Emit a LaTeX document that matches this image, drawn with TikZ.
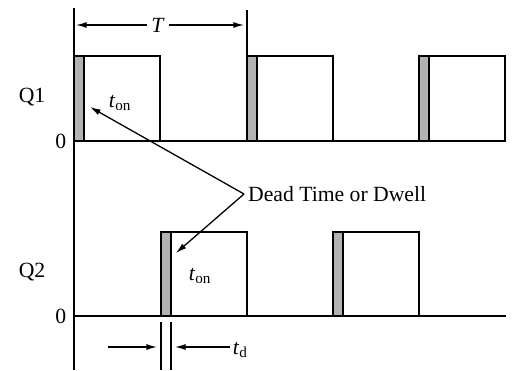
\documentclass[tikz,border=0pt]{standalone}
\usepackage{amsmath}
\usepackage{fontspec}
\setmainfont{Liberation Serif}
\usepackage{tikz}
\usetikzlibrary{arrows.meta}

\begin{document}
\begin{tikzpicture}[x=0.03cm, y=-0.03cm, line width=1.1pt,
    font=\fontsize{18.5}{22}\selectfont,
    tip/.style={-{Latex[length=3.2mm,width=1.8mm]}},
    dead/.style={draw, fill=black!30}]
      \useasboundingbox (0,0) rectangle (515,370);

      % Q1 pulses
      \foreach \x in {74,247,419} {
        \draw[dead] (\x,141) rectangle (\x+10,56);
        \draw (\x+10,141) rectangle (\x+86,56);
      }

      % Q2 pulses
      \foreach \x in {161,333} {
        \draw[dead] (\x,316) rectangle (\x+10,232);
        \draw (\x+10,316) rectangle (\x+86,232);
      }

      % Axis and base lines
      \draw (74,8) -- (74,370);
      \draw (74,141) -- (506,141);
      \draw (74,316) -- (506,316);

      % Period marker
      \draw (247,10) -- (247,56);
      \node (T) at (158,25) {\textit{T}};
      \coordinate (Tl) at (76,25);
      \coordinate (Tr) at (244,25);
      \draw[tip] (T.west) -- (Tl);
      \draw[tip] (T.east) -- (Tr);

      % Signal labels
      \node (q1) at (32,97) {Q1};
      \node[left, inner sep=1pt] (z1) at (68,141) {0};
      \node (q2) at (32,272) {Q2};
      \node[left, inner sep=1pt] (z2) at (68,316) {0};

      % On times
      \node (on1) at (120,103) {\textit{t}\textsubscript{on}};
      \node (on2) at (200,276) {\textit{t}\textsubscript{on}};

      % Dead time
      \coordinate (dw) at (244,194);
      \node[right, inner sep=3pt] (dwell) at (dw) {Dead Time or Dwell};
      \coordinate (d1) at (90,107);
      \coordinate (d2) at (176,253);
      \draw[tip] (dw) -- (d1);
      \draw[tip] (dw) -- (d2);

      % Dead time width t_d
      \draw (161,322) -- (161,370);
      \draw (171,322) -- (171,370);
      \coordinate (ta) at (108,347);
      \coordinate (tb) at (157,347);
      \coordinate (tc) at (175,347);
      \node[right, inner sep=2pt] (td) at (230,350) {\textit{t}\textsubscript{d}};
      \draw[tip] (td.west |- tc) -- (tc);
      \draw[tip] (ta) -- (tb);

    \end{tikzpicture}
\end{document}
